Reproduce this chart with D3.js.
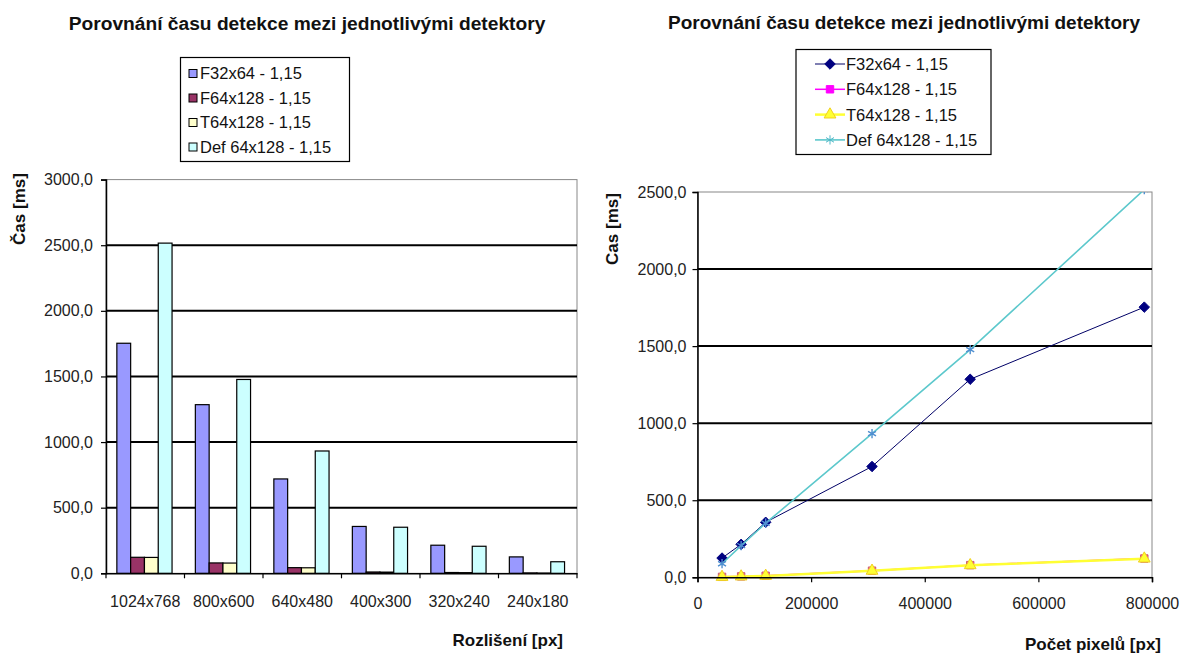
<!DOCTYPE html>
<html>
<head>
<meta charset="utf-8">
<script src="https://cdn.jsdelivr.net/npm/d3@7"></script>
<style>
  html, body { margin: 0; padding: 0; background: #fff; }
  svg { display: block; font-family: "Liberation Sans", Arial, sans-serif; }
</style>
</head>
<body>
<svg id="chart" width="1181" height="655"></svg>
<script>
// Resolutions and their pixel counts
const resolutions = ["1024x768", "800x600", "640x480", "400x300", "320x240", "240x180"];
const pixelCounts = [786432, 480000, 307200, 120000, 76800, 43200];

// Detection time [ms] per detector
const seriesNames = ["F32x64 - 1,15", "F64x128 - 1,15", "T64x128 - 1,15", "Def 64x128 - 1,15"];
const f32x64   = [1753, 1285, 719, 357, 214, 125];
const f64x128  = [122, 79, 43, 10, 6, 3];
const t64x128  = [121, 78, 42, 9, 5, 2];
const def64x128 = [2516, 1477, 932, 351, 206, 88];

const barTicks = [0, 500, 1000, 1500, 2000, 2500, 3000];
const lineYTicks = [0, 500, 1000, 1500, 2000, 2500];
const lineXTicks = [0, 200000, 400000, 600000, 800000];

const titleText = "Porovnání času detekce mezi jednotlivými detektory";
const barColors = ["#9999ff", "#993366", "#ffffcc", "#ccffff"];
const lineColors = ["#000066", "#ff00ff", "#ffff33", "#5cc8cc"];

const allSeries = [f32x64, f64x128, t64x128, def64x128];
const fmt = v => d3.format(".1f")(v).replace(".", ",");

const svg = d3.select("#chart");

// ---------- Left: grouped column chart ----------
(function () {
  const L = { left: 106, right: 577, top: 179.6, bottom: 573.3 };
  const g = svg.append("g");

  g.append("text").attr("x", 307).attr("y", 30).attr("text-anchor", "middle")
    .attr("font-weight", "bold").attr("font-size", 19.2).attr("fill", "#111").text(titleText);

  const x = d3.scaleBand().domain(resolutions).range([L.left, L.right]);
  const y = d3.scaleLinear().domain([0, 3000]).range([L.bottom, L.top]);
  const bw = 13.8;
  const inner = d3.scaleBand().domain(d3.range(4))
    .range([(x.bandwidth() - 4 * bw) / 2 - 0.8, (x.bandwidth() + 4 * bw) / 2 - 0.8]);

  // plot frame
  g.append("rect").attr("x", L.left).attr("y", L.top).attr("width", L.right - L.left)
    .attr("height", L.bottom - L.top).attr("fill", "none").attr("stroke", "#888").attr("stroke-width", 1);

  // gridlines
  g.append("g").selectAll("line").data(barTicks.filter(t => t > 0 && t < 3000)).join("line")
    .attr("x1", L.left).attr("x2", L.right).attr("y1", d => y(d)).attr("y2", d => y(d))
    .attr("stroke", "#000").attr("stroke-width", 2);

  // bars
  const groups = g.append("g").selectAll("g").data(resolutions).join("g")
    .attr("transform", d => `translate(${x(d)},0)`);
  groups.selectAll("rect").data((d, i) => allSeries.map((s, k) => ({ k, v: s[i] }))).join("rect")
    .attr("x", d => inner(d.k)).attr("width", inner.bandwidth())
    .attr("y", d => y(d.v)).attr("height", d => y(0) - y(d.v))
    .attr("fill", d => barColors[d.k]).attr("stroke", "#000").attr("stroke-width", 1.2);

  // y axis
  const ya = d3.axisLeft(y).tickValues(barTicks).tickFormat(fmt).tickSize(5).tickPadding(8);
  const yg = g.append("g").attr("transform", `translate(${L.left},0)`).call(ya);
  // x axis
  const xa = d3.axisBottom(x).tickSize(0).tickPadding(22);
  const xg = g.append("g").attr("transform", `translate(0,${L.bottom})`).call(xa);
  // category boundary ticks
  g.append("g").selectAll("line").data(d3.range(resolutions.length + 1)).join("line")
    .attr("x1", i => L.left + i * x.step()).attr("x2", i => L.left + i * x.step())
    .attr("y1", L.bottom).attr("y2", L.bottom + 5).attr("stroke", "#000").attr("stroke-width", 1.2);

  [yg, xg].forEach(a => {
    a.select(".domain").attr("stroke", "#000").attr("stroke-width", 1.5);
    a.selectAll(".tick line").attr("stroke", "#000").attr("stroke-width", 1.2);
    a.selectAll("text").attr("font-size", 16).attr("fill", "#222").attr("font-family", "Liberation Sans, Arial, sans-serif");
  });

  g.append("text").attr("transform", "translate(25,209) rotate(-90)").attr("text-anchor", "middle")
    .attr("font-weight", "bold").attr("font-size", 17).attr("fill", "#111").text("Čas [ms]");
  g.append("text").attr("x", 563).attr("y", 646).attr("text-anchor", "end")
    .attr("font-weight", "bold").attr("font-size", 17).attr("fill", "#111").text("Rozlišení [px]");

  // legend
  const lg = g.append("g");
  lg.append("rect").attr("x", 180.5).attr("y", 57.5).attr("width", 169).attr("height", 104)
    .attr("fill", "#fff").attr("stroke", "#000").attr("stroke-width", 1.2);
  seriesNames.forEach((n, i) => {
    const cy = 73.5 + i * 24.5;
    lg.append("rect").attr("x", 189).attr("y", cy - 4).attr("width", 8).attr("height", 8)
      .attr("fill", barColors[i]).attr("stroke", "#000").attr("stroke-width", 1);
    lg.append("text").attr("x", 200).attr("y", cy).attr("dy", "0.36em")
      .attr("font-size", 16.5).attr("fill", "#111").text(n);
  });
})();

// ---------- Right: line chart over pixel count ----------
(function () {
  const R = { left: 697.5, right: 1152, top: 192, bottom: 577.3 };
  const g = svg.append("g");

  g.append("text").attr("x", 904).attr("y", 29).attr("text-anchor", "middle")
    .attr("font-weight", "bold").attr("font-size", 19).attr("fill", "#111").text(titleText);

  const x = d3.scaleLinear().domain([0, 800000]).range([R.left, R.right]);
  const y = d3.scaleLinear().domain([0, 2500]).range([R.bottom, R.top]);

  g.append("rect").attr("x", R.left).attr("y", R.top).attr("width", R.right - R.left)
    .attr("height", R.bottom - R.top).attr("fill", "none").attr("stroke", "#888").attr("stroke-width", 1);
  g.append("g").selectAll("line").data(lineYTicks.filter(t => t > 0 && t < 2500)).join("line")
    .attr("x1", R.left).attr("x2", R.right).attr("y1", d => y(d)).attr("y2", d => y(d))
    .attr("stroke", "#000").attr("stroke-width", 2);

  svg.append("defs").append("clipPath").attr("id", "plotClip").append("rect")
    .attr("x", R.left).attr("y", R.top).attr("width", R.right - R.left + 8).attr("height", R.bottom - R.top + 10);

  const line = d3.line().x(d => x(d[0])).y(d => y(d[1]));
  const plot = g.append("g").attr("clip-path", "url(#plotClip)");
  const widths = [1, 1.5, 2.5, 1.6];

  const symbolFor = [d3.symbolDiamond2, d3.symbolSquare, d3.symbolTriangle, d3.symbolAsterisk];
  const sizes = [70, 55, 60, 60];

  allSeries.forEach((s, k) => {
    const pts = pixelCounts.map((p, i) => [p, s[i]]).sort((a, b) => a[0] - b[0]);
    plot.append("path").datum(pts).attr("d", line).attr("fill", "none")
      .attr("stroke", lineColors[k]).attr("stroke-width", widths[k]);
    plot.append("g").selectAll("path").data(pts).join("path")
      .attr("transform", d => `translate(${x(d[0])},${y(d[1])})`)
      .attr("d", d3.symbol().type(symbolFor[k]).size(sizes[k]))
      .attr("fill", k === 3 ? "none" : (k === 1 ? "#ff00ff" : (k === 0 ? "#000080" : lineColors[k])))
      .attr("stroke", k === 3 ? "#4f8fd0" : (k === 1 ? "#cc6666" : (k === 2 ? "#f0d020" : "#000080")))
      .attr("stroke-width", k === 3 ? 1.4 : 1);
  });

  const ya = d3.axisLeft(y).tickValues(lineYTicks).tickFormat(fmt).tickSize(5).tickPadding(6);
  const yg = g.append("g").attr("transform", `translate(${R.left},0)`).call(ya);
  const xa = d3.axisBottom(x).tickValues(lineXTicks).tickFormat(d3.format("d")).tickSize(5).tickPadding(15);
  const xg = g.append("g").attr("transform", `translate(0,${R.bottom})`).call(xa);
  [yg, xg].forEach(a => {
    a.select(".domain").attr("stroke", "#000").attr("stroke-width", 1.5);
    a.selectAll(".tick line").attr("stroke", "#000").attr("stroke-width", 1.2);
    a.selectAll("text").attr("font-size", 16).attr("fill", "#222").attr("font-family", "Liberation Sans, Arial, sans-serif");
  });

  g.append("text").attr("transform", "translate(618,229) rotate(-90)").attr("text-anchor", "middle")
    .attr("font-weight", "bold").attr("font-size", 17).attr("fill", "#111").text("Cas [ms]");
  g.append("text").attr("x", 1161).attr("y", 650).attr("text-anchor", "end")
    .attr("font-weight", "bold").attr("font-size", 17).attr("fill", "#111").text("Počet pixelů [px]");

  // legend
  const lg = g.append("g");
  lg.append("rect").attr("x", 796).attr("y", 49.5).attr("width", 195).attr("height", 105)
    .attr("fill", "#fff").attr("stroke", "#000").attr("stroke-width", 1.2);
  seriesNames.forEach((n, k) => {
    const cy = 64 + k * 25.3;
    lg.append("line").attr("x1", 815).attr("x2", 845).attr("y1", cy).attr("y2", cy)
      .attr("stroke", lineColors[k]).attr("stroke-width", widths[k]);
    lg.append("path").attr("transform", `translate(830,${cy})`)
      .attr("d", d3.symbol().type(symbolFor[k]).size(sizes[k]))
      .attr("fill", k === 3 ? "none" : (k === 1 ? "#ff00ff" : (k === 0 ? "#000080" : lineColors[k])))
      .attr("stroke", k === 3 ? "#4fb8c8" : (k === 2 ? "#f0d020" : (k === 0 ? "#000080" : lineColors[k])))
      .attr("stroke-width", 1);
    lg.append("text").attr("x", 846).attr("y", cy).attr("dy", "0.36em")
      .attr("font-size", 16.5).attr("fill", "#111").text(n);
  });
})();
</script>
</body>
</html>
